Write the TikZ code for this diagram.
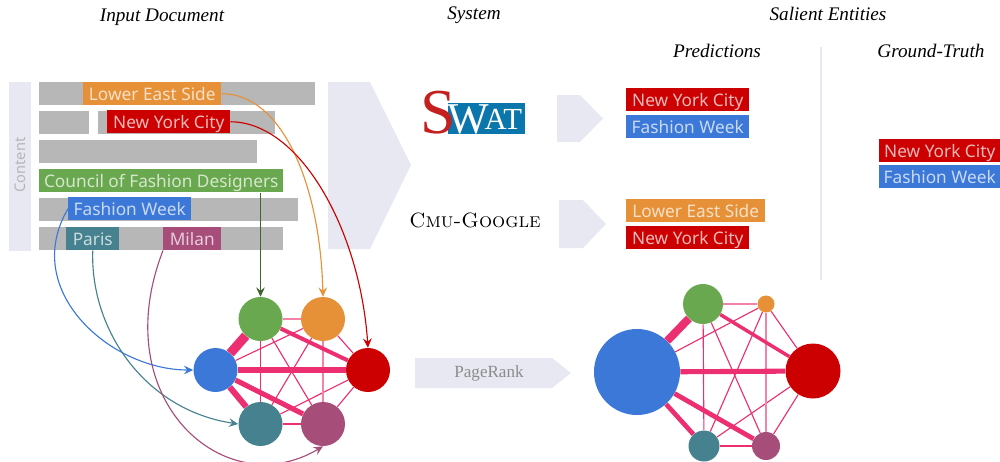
\documentclass[tikz,border=0pt]{standalone}
\usepackage{fontspec}
\setsansfont{Noto Sans}
\newfontfamily\headfont{Liberation Serif}
\usetikzlibrary{arrows.meta}

\newcommand{\px}{0.75pt}
\definecolor{barGray}{HTML}{B7B7B7}
\definecolor{paleBlue}{HTML}{E7E8F1}
\definecolor{entOrange}{HTML}{E69138}
\definecolor{entRed}{HTML}{CC0000}
\definecolor{entGreen}{HTML}{6AA84F}
\definecolor{entBlue}{HTML}{3C78D8}
\definecolor{entTeal}{HTML}{45818E}
\definecolor{entPurple}{HTML}{A64D79}
\definecolor{edgePink}{HTML}{EC2F70}
\definecolor{swatBlue}{HTML}{0B76AB}
\definecolor{swatRed}{HTML}{C4201F}

\begin{document}
\begin{tikzpicture} [
		x = 0.75pt,
		y = -0.75pt,
		heading/.style = {
			font = \headfont\itshape\fontsize{14.4}{17}\selectfont,
			inner sep = 0pt,
		},
		entity/.style = {
			anchor = north west,
			inner sep = 0pt,
			minimum height = 23*\px,
			font = \sffamily\fontsize{12.95}{15}\selectfont,
			text height = 11.6pt,
			text depth = 1.4pt,
			text = white,
			text opacity = 0.72,
		},
		vertex/.style = {
			circle,
			inner sep = 0pt,
		},
		link/.style = {
			draw = edgePink,
			line width = 0.85pt,
		},
		pointer/.style = {
			draw,
			line width = 0.85pt,
			->,
			>={Stealth[length=7pt, width=6.5pt, inset=2.5pt]},
		},
		pale/.style = {
			fill = paleBlue,
		},
		bar/.style = {
			fill = barGray,
		},
	]
	\useasboundingbox (0,0) rectangle (1000,461);

	% headings
	\node[heading] (headInput) at (162,17) {Input Document};
	\node[heading] (headSystem) at (474,15) {System};
	\node[heading] (headSalient) at (828,14) {Salient Entities};
	\node[heading] (headPred) at (717,51) {Predictions};
	\node[heading] (headGround) at (931,51) {Ground-Truth};

	% document
	\fill[pale] (9,82) rectangle (31,251);
	\node[rotate=90, text=barGray, inner sep=0pt, font=\sffamily\fontsize{11}{13}\selectfont] (content) at (20,165) {Content};
	\fill[bar] (39,82) rectangle (315,105);
	\fill[bar] (39,111) rectangle (89,134);
	\fill[bar] (98,111) rectangle (275,134);
	\fill[bar] (39,140) rectangle (257,163);
	\fill[bar] (39,198) rectangle (298,221);
	\fill[bar] (39,227) rectangle (283,250);

	\node[entity, fill=entOrange, minimum width=138*\px] (docLower) at (83,82) {Lower East Side};
	\node[entity, fill=entRed, minimum width=123*\px] (docNewYork) at (107,110) {New York City};
	\node[entity, fill=entGreen, minimum width=244*\px] (docCouncil) at (39,169) {Council of Fashion Designers};
	\node[entity, fill=entBlue, minimum width=123*\px] (docFashion) at (68,197) {Fashion Week};
	\node[entity, fill=entTeal, minimum width=53*\px] (docParis) at (66,227) {Paris};
	\node[entity, fill=entPurple, minimum width=58*\px] (docMilan) at (163,227) {Milan};

	% big arrow
	\fill[pale] (328,82) -- (370,82) -- (411,165) -- (370,249) -- (328,249) -- cycle;

	% systems
	\fill[swatBlue] (448,103) rectangle (525,134);
	\node[anchor=base west, inner sep=0pt, text=white, font=\headfont] (swat) at (420,133.5) {%
		\textcolor{swatRed}{\fontsize{48}{48}\selectfont S}\kern-6.5pt%
		{\fontsize{33}{33}\selectfont W}\kern-3pt%
		\raisebox{3pt}{\fontsize{23}{23}\selectfont AT}};
	\node[inner sep=0pt, font=\fontsize{15.5}{18}\selectfont] (cmuGoogle) at (475,220) {\textsc{Cmu-Google}};

	\fill[pale] (557,95) -- (580,95) -- (603,118.5) -- (580,142) -- (557,142) -- cycle;
	\fill[pale] (559,200) -- (583,200) -- (606,224) -- (583,248) -- (559,248) -- cycle;

	% predictions
	\node[entity, fill=entRed, minimum width=123*\px] (predNewYork) at (626,88) {New York City};
	\node[entity, fill=entBlue, minimum width=123*\px] (predFashion) at (626,115) {Fashion Week};
	\node[entity, fill=entOrange, minimum width=139*\px] (predLower) at (626,199) {Lower East Side};
	\node[entity, fill=entRed, minimum width=123*\px] (predNewYorkB) at (626,226) {New York City};
	\node[entity, fill=entRed, minimum width=121*\px] (truthNewYork) at (879,139) {New York City};
	\node[entity, fill=entBlue, minimum width=121*\px] (truthFashion) at (879,165) {Fashion Week};

	\draw[paleBlue, line width=1pt] (821,47) -- (821,280);

	% first graph
	\node[vertex, fill=entGreen, minimum size=44*\px] (a1) at (260.5,319) {};
	\node[vertex, fill=entOrange, minimum size=44*\px] (a2) at (323,319) {};
	\node[vertex, fill=entBlue, minimum size=44*\px] (a3) at (215.5,370) {};
	\node[vertex, fill=entRed, minimum size=44*\px] (a4) at (368,370) {};
	\node[vertex, fill=entTeal, minimum size=44*\px] (a5) at (260.5,424) {};
	\node[vertex, fill=entPurple, minimum size=44*\px] (a6) at (323,424) {};

	\foreach \from/\to in {a1/a5, a1/a6, a2/a3, a2/a4, a2/a5, a4/a5, a4/a6}
		\path[link] (\from) -- (\to);
	\path[link, draw=edgePink!60, line width=1.2pt] (a1) -- (a2);
	\path[link, draw=edgePink!60, line width=1.2pt] (a2) -- (a6);
	\path[link, line width=1.2pt] (a5) -- (a6);
	\path[link, line width=7pt] (a1) -- (a3);
	\path[link, line width=4.5pt] (a3) -- (a5);
	\path[link, line width=4.5pt] (a3) -- (a4);
	\path[link, line width=3.8pt] (a3) -- (a6);
	\path[link, line width=3pt] (a1) -- (a4);

	% second graph
	\node[vertex, fill=entGreen, minimum size=40*\px] (b1) at (703,304) {};
	\node[vertex, fill=entOrange, minimum size=17*\px] (b2) at (766,304) {};
	\node[vertex, fill=entBlue, minimum size=86*\px] (b3) at (637,372) {};
	\node[vertex, fill=entRed, minimum size=55*\px] (b4) at (813,371) {};
	\node[vertex, fill=entTeal, minimum size=31*\px] (b5) at (704,446) {};
	\node[vertex, fill=entPurple, minimum size=28*\px] (b6) at (766,446) {};

	\foreach \from/\to in {b1/b5, b1/b6, b2/b3, b2/b4, b2/b5, b4/b5, b4/b6}
		\path[link] (\from) -- (\to);
	\path[link, draw=edgePink!60, line width=1.2pt] (b1) -- (b2);
	\path[link, draw=edgePink!60, line width=1.2pt] (b2) -- (b6);
	\path[link, line width=1.2pt] (b5) -- (b6);
	\path[link, line width=6pt] (b1) -- (b3);
	\path[link, line width=3.5pt] (b3) -- (b5);
	\path[link, line width=3.8pt] (b3) -- (b4);
	\path[link, line width=3.6pt] (b3) -- (b6);
	\path[link, line width=2.6pt] (b1) -- (b4);

	% pagerank
	\fill[pale] (415,358) -- (552,358) -- (571,373) -- (552,388) -- (415,388) -- cycle;
	\node[inner sep=0pt, text=black!45, font=\headfont\fontsize{12.8}{15}\selectfont] (pageRank) at (489,373) {PageRank};

	% pointers
	\draw[pointer, entOrange] (docLower.east) .. controls (280,93) and (320,180) .. (a2.north);
	\draw[pointer, entRed] (docNewYork.east) .. controls (300,122) and (360,230) .. (a4.north);
	\draw[pointer, entGreen!60!black] (docCouncil.south -| a1.north) -- (a1.north);
	\draw[pointer, entBlue] (docFashion.west) .. controls (20,290) and (110,370) .. (a3.west);
	\draw[pointer, entTeal] (docParis.south) .. controls (90,330) and (145,410) .. (a5.west);
	\draw[pointer, entPurple] (docMilan.south west) .. controls (105,400) and (225,505) .. (a6.south);
\end{tikzpicture}
\end{document}
